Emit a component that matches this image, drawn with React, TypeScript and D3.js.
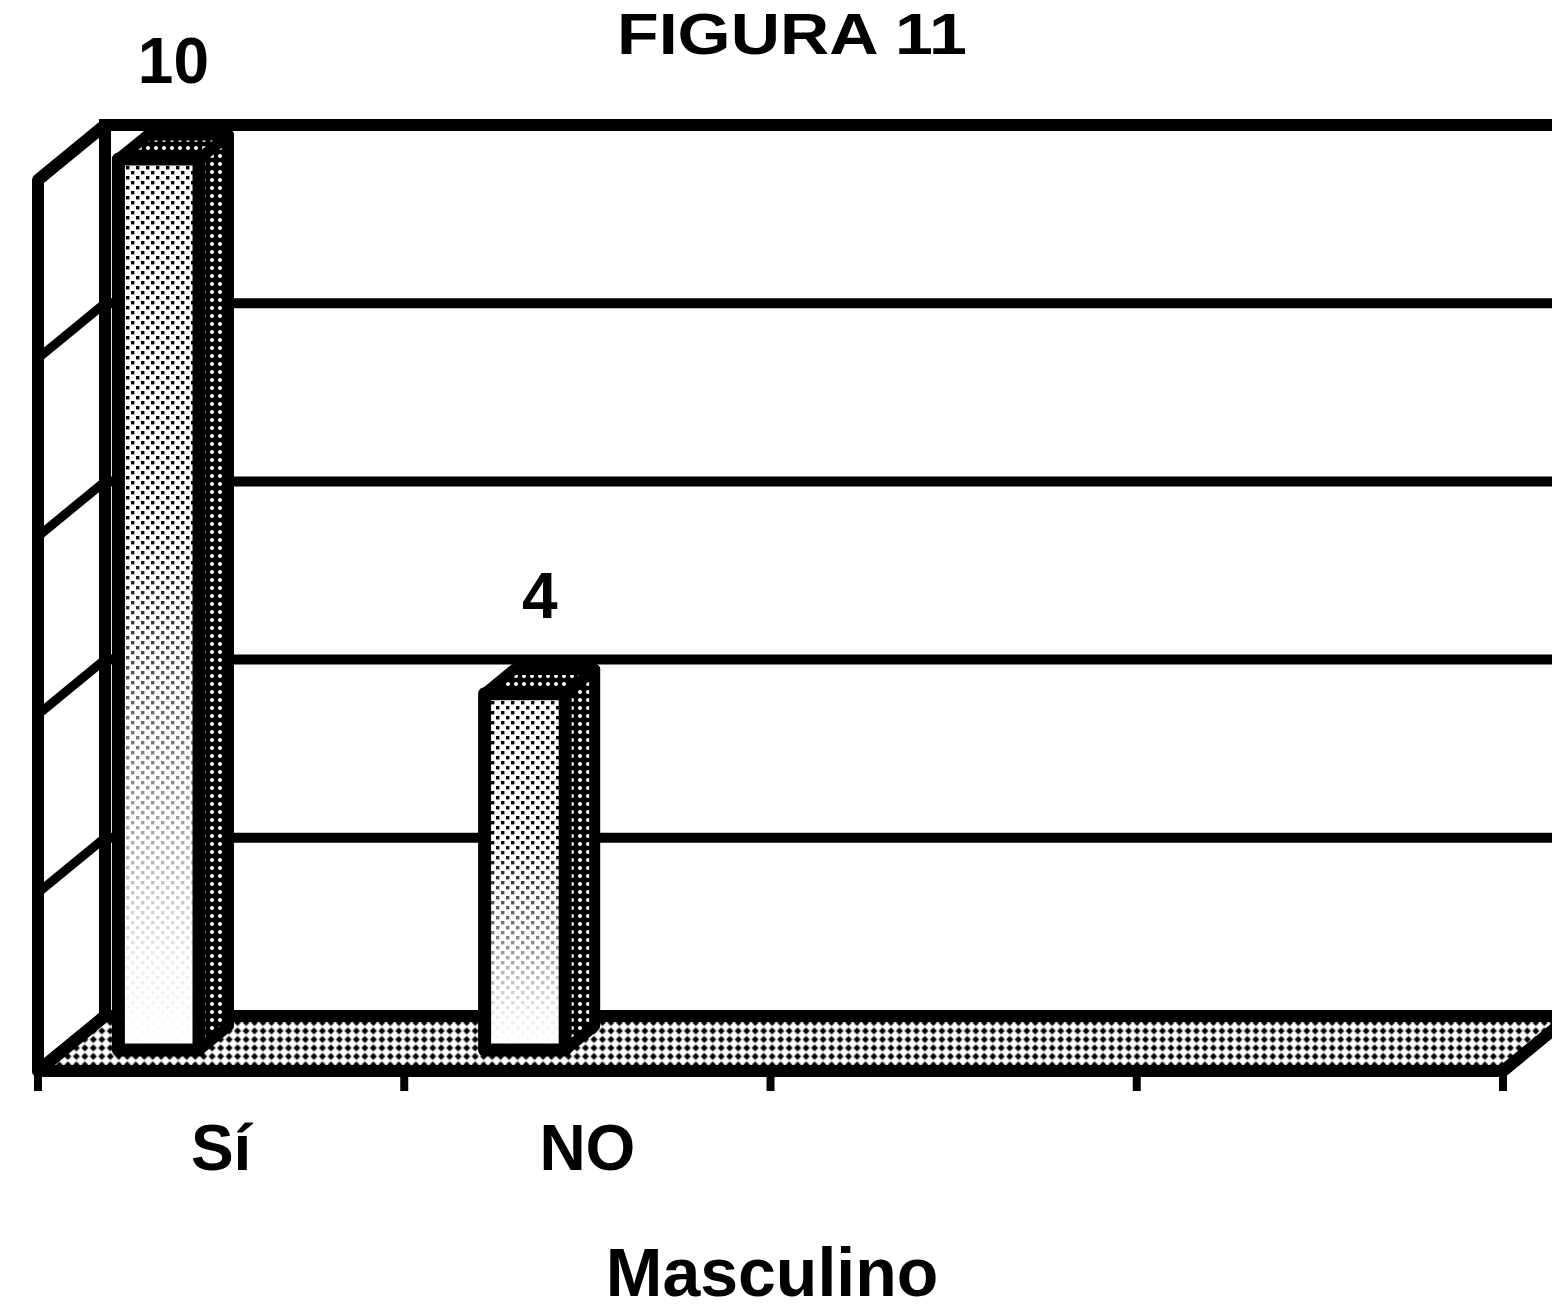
import React from 'react';
import * as d3 from 'd3';

// ---- data ----
const categories: string[] = ["Sí", "NO", "", ""];
const values: (number | null)[] = [10, 4, null, null];
const yTicks: number[] = [0, 2, 4, 6, 8, 10];
const titleText = "FIGURA 11";
const xAxisTitle = "Masculino";

const W = 1552, H = 1312;
const DX = 67, DY = -55; // full depth offset
const FONT = "'Liberation Sans', Arial, Helvetica, sans-serif";

type Pt = [number, number];
const poly = (pts: Pt[]) => "M" + pts.map(p => p[0].toFixed(1) + "," + p[1].toFixed(1)).join("L") + "Z";

export default function App() {
  const x = d3.scaleBand<string>()
    .domain(categories.map((_, i) => String(i)))
    .range([38, 1503])
    .paddingInner(0).paddingOuter(0);
  const y = d3.scaleLinear().domain([0, 10]).range([1071, 180]);
  const bw = x.bandwidth();
  const P = (fx: number, v: number, z: number): Pt => [fx + z * DX, y(v) + z * DY];

  const xL = x.range()[0], xR = x.range()[1];
  const z0 = 0.38, z1 = 0.82;
  const SW = 11;

  const backWall = poly([P(xL, 0, 1), P(xR, 0, 1), P(xR, 10, 1), P(xL, 10, 1)]);
  const sideWall = poly([P(xL, 0, 0), P(xL, 0, 1), P(xL, 10, 1), P(xL, 10, 0)]);
  const floor = poly([P(xL, 0, 0), P(xR, 0, 0), P(xR, 0, 1), P(xL, 0, 1)]);

  const bars = values.map((v, i) => {
    if (v == null) return null;
    const x0 = (x(String(i)) as number) + bw * 0.15;
    const x1 = x0 + bw * 0.22;
    const front = poly([P(x0, 0, z0), P(x1, 0, z0), P(x1, v, z0), P(x0, v, z0)]);
    const side = poly([P(x1, 0, z0), P(x1, 0, z1), P(x1, v, z1), P(x1, v, z0)]);
    const top = poly([P(x0, v, z0), P(x1, v, z0), P(x1, v, z1), P(x0, v, z1)]);
    const fb = P(x0, 0, z0), ft = P(x1, v, z0);
    const lab = P((x0 + x1) / 2, v, 0.6);
    return { i, v, front, side, top, fb, ft, lab };
  });

  const tickXs = categories.map((_, i) => x(String(i)) as number).concat([xR]);

  return (
    <div>
      <style>{`body{margin:0;background:#fff}`}</style>
      <svg width={W} height={H} viewBox={`0 0 ${W} ${H}`} style={{ display: 'block' }}>
        <defs>
          <pattern id="dots" width="10" height="10" patternUnits="userSpaceOnUse">
            <rect width="10" height="10" fill="#fff" />
            <rect x="1" y="1" width="3.4" height="3.4" fill="#000" />
            <rect x="6" y="6" width="3.4" height="3.4" fill="#000" />
          </pattern>
          <pattern id="dark" width="8" height="8" patternUnits="userSpaceOnUse">
            <rect width="8" height="8" fill="#000" />
            <circle cx="4" cy="4" r="2" fill="#fff" />
          </pattern>
          <pattern id="floorPat" width="12" height="12" patternUnits="userSpaceOnUse" patternTransform="rotate(45)">
            <rect width="12" height="12" fill="#fff" />
            <rect x="0.5" y="0.5" width="5" height="5" fill="#000" />
            <rect x="6.5" y="6.5" width="5" height="5" fill="#000" />
          </pattern>
          <linearGradient id="fadeGrad" x1="0" y1="0" x2="0" y2="1">
            <stop offset="0" stopColor="#fff" stopOpacity="1" />
            <stop offset="0.4" stopColor="#fff" stopOpacity="1" />
            <stop offset="0.9" stopColor="#fff" stopOpacity="0.08" />
            <stop offset="1" stopColor="#fff" stopOpacity="0" />
          </linearGradient>
          <mask id="fadeMask" maskContentUnits="objectBoundingBox">
            <rect x="0" y="0" width="1" height="1" fill="url(#fadeGrad)" />
          </mask>
        </defs>

        {/* back wall */}
        <path d={backWall} fill="#fff" />
        {yTicks.filter(t => t > 0).map(t => {
          const a = P(xL, t, 1), b = P(xR, t, 1);
          return <line key={t} x1={a[0]} y1={a[1]} x2={b[0] + 20} y2={b[1]} stroke="#000" strokeWidth={t === 10 ? 12 : 10} />;
        })}
        {(() => { const a = P(xL, 0, 1), b = P(xL, 10, 1); return <line x1={a[0]} y1={a[1]} x2={b[0]} y2={b[1] - 6} stroke="#000" strokeWidth={SW + 1} />; })()}

        {/* side wall */}
        <path d={sideWall} fill="#fff" stroke="#000" strokeWidth={SW + 1} strokeLinejoin="round" />
        {yTicks.filter(t => t > 0 && t < 10).map(t => {
          const a = P(xL, t, 0), b = P(xL, t, 1);
          return <line key={t} x1={a[0]} y1={a[1]} x2={b[0]} y2={b[1]} stroke="#000" strokeWidth={9} />;
        })}

        {/* floor */}
        <path d={floor} fill="url(#floorPat)" stroke="#000" strokeWidth={SW + 1} strokeLinejoin="round" />

        {/* bars */}
        {bars.map(b => b && (
          <g key={b.i}>
            <path d={b.side} fill="url(#dark)" stroke="#000" strokeWidth={SW} strokeLinejoin="round" />
            <path d={b.top} fill="url(#dark)" stroke="#000" strokeWidth={SW} strokeLinejoin="round" />
            <path d={b.front} fill="#fff" />
            <g mask="url(#fadeMask)">
              <rect x={b.fb[0]} y={b.ft[1]} width={b.ft[0] - b.fb[0]} height={b.fb[1] - b.ft[1]} fill="url(#dots)" />
            </g>
            <path d={b.front} fill="none" stroke="#000" strokeWidth={SW + 2} strokeLinejoin="round" />
            <text x={b.lab[0]} y={b.lab[1] - 64} textAnchor="middle" fontFamily={FONT} fontWeight="bold" fontSize={64}>{b.v}</text>
          </g>
        ))}

        {/* x ticks */}
        {tickXs.map((tx, i) => (
          <line key={i} x1={tx} y1={y(0)} x2={tx} y2={y(0) + 20} stroke="#000" strokeWidth={8} />
        ))}

        {/* category labels */}
        {categories.map((c, i) => (
          <text key={i} x={(x(String(i)) as number) + bw / 2} y={1170} textAnchor="middle" fontFamily={FONT} fontWeight="bold" fontSize={64}>{c}</text>
        ))}

        <text x={772} y={1296} textAnchor="middle" fontFamily={FONT} fontWeight="bold" fontSize={68}>{xAxisTitle}</text>
        <text x={792} y={54} textAnchor="middle" fontFamily={FONT} fontWeight="bold" fontSize={58} textLength={350} lengthAdjust="spacingAndGlyphs">{titleText}</text>
      </svg>
    </div>
  );
}
